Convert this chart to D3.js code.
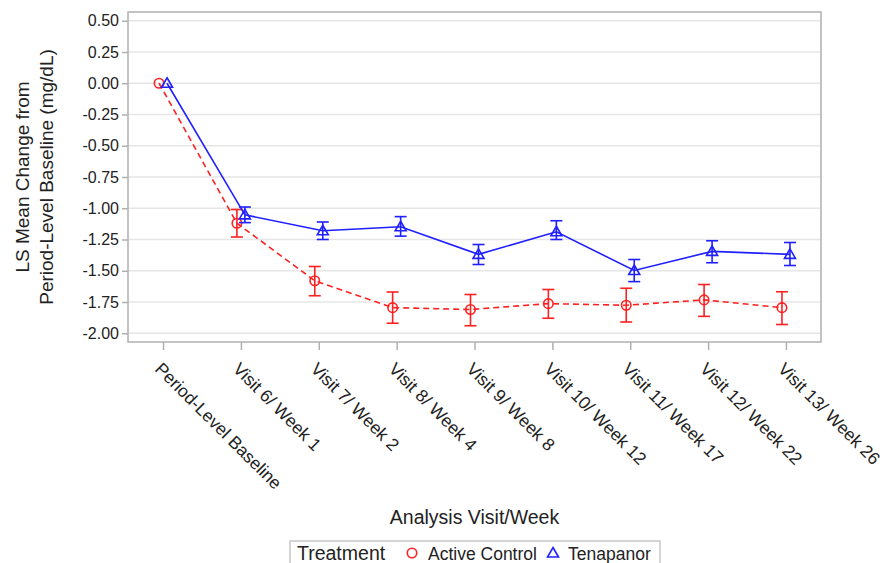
<!DOCTYPE html>
<html>
<head>
<meta charset="utf-8">
<script src="https://d3js.org/d3.v7.min.js"></script>
<style>
  body { margin: 0; background: #fff; }
  text { font-family: "Liberation Sans", Arial, sans-serif; fill: #222; }
  .grid line { stroke: #e6e6e6; stroke-width: 1.5; }
</style>
</head>
<body>
<script>
var visits = ['Period-Level Baseline','Visit 6/ Week 1','Visit 7/ Week 2','Visit 8/ Week 4',
              'Visit 9/ Week 8','Visit 10/ Week 12','Visit 11/ Week 17','Visit 12/ Week 22','Visit 13/ Week 26'];
var yTicks = [0.5, 0.25, 0, -0.25, -0.5, -0.75, -1, -1.25, -1.5, -1.75, -2];

// Active Control
var ctrlMean  = [0, -1.12, -1.58, -1.795, -1.81, -1.763, -1.776, -1.733, -1.795];
var ctrlUpper = [0, -1.01, -1.466, -1.67, -1.69, -1.65, -1.64, -1.61, -1.668];
var ctrlLower = [0, -1.23, -1.70, -1.92, -1.94, -1.88, -1.91, -1.865, -1.93];
// Tenapanor
var tenaMean  = [0, -1.053, -1.18, -1.148, -1.369, -1.188, -1.498, -1.345, -1.369];
var tenaUpper = [0, -0.99, -1.11, -1.067, -1.29, -1.10, -1.41, -1.26, -1.274];
var tenaLower = [0, -1.115, -1.25, -1.223, -1.45, -1.25, -1.587, -1.436, -1.458];

var W = 883, H = 563;
var pLeft = 128, pRight = 821, pTop = 12, pBottom = 342;

var svg = d3.select('body').append('svg').attr('width', W).attr('height', H);

var x = d3.scalePoint().domain(visits).range([pLeft, pRight]).padding(0.45);
var y = d3.scaleLinear().domain([-2.07, 0.57]).range([pBottom, pTop]);

// gridlines
svg.append('g').attr('class', 'grid')
  .selectAll('line').data(yTicks).enter().append('line')
  .attr('x1', pLeft).attr('x2', pRight)
  .attr('y1', function(d) { return y(d); }).attr('y2', function(d) { return y(d); });

// frame
svg.append('rect').attr('x', pLeft).attr('y', pTop)
  .attr('width', pRight - pLeft).attr('height', pBottom - pTop)
  .attr('fill', 'none').attr('stroke', '#b0b0b0').attr('stroke-width', 1.5);

// y axis
var yAxis = svg.append('g').attr('transform', 'translate(' + pLeft + ',0)')
  .call(d3.axisLeft(y).tickValues(yTicks).tickSize(6).tickPadding(3));
yAxis.select('.domain').remove();
yAxis.selectAll('line').attr('stroke', '#b0b0b0').attr('stroke-width', 1.5);
yAxis.selectAll('text').style('font-size', '16px').attr('fill', '#222')
  .text(function(d) { return d3.format('.2f')(d).replace('\u2212', '-'); });

// x axis
var xAxis = svg.append('g').attr('transform', 'translate(0,' + pBottom + ')')
  .call(d3.axisBottom(x).tickSize(8).tickFormat(''));
xAxis.select('.domain').remove();
xAxis.selectAll('line').attr('stroke', '#b0b0b0').attr('stroke-width', 1.5);

svg.append('g').selectAll('text').data(visits).enter().append('text')
  .attr('transform', function(d) { return 'translate(' + (x(d) - 9) + ',' + (pBottom + 28) + ') rotate(45)'; })
  .style('font-size', '17.5px')
  .text(function(d) { return d; });

// axis titles
svg.append('text')
  .attr('transform', 'translate(29,' + ((pTop + pBottom) / 2) + ') rotate(-90)')
  .attr('text-anchor', 'middle').style('font-size', '19px')
  .text('LS Mean Change from');
svg.append('text')
  .attr('transform', 'translate(53,' + ((pTop + pBottom) / 2) + ') rotate(-90)')
  .attr('text-anchor', 'middle').style('font-size', '19px')
  .text('Period-Level Baseline (mg/dL)');
svg.append('text')
  .attr('x', (pLeft + pRight) / 2).attr('y', 524)
  .attr('text-anchor', 'middle').style('font-size', '19.5px')
  .text('Analysis Visit/Week');

// series
function drawSeries(mean, upper, lower, color, dx, dash, marker) {
  var g = svg.append('g');
  var line = d3.line()
    .x(function(d, i) { return x(visits[i]) + dx; })
    .y(function(d) { return y(d); });
  g.append('path').datum(mean).attr('d', line)
    .attr('fill', 'none').attr('stroke', color).attr('stroke-width', 1.6)
    .attr('stroke-dasharray', dash);
  visits.forEach(function(v, i) {
    if (i === 0) return;
    var cx = x(v) + dx;
    g.append('line').attr('x1', cx).attr('x2', cx)
      .attr('y1', y(upper[i])).attr('y2', y(lower[i]))
      .attr('stroke', color).attr('stroke-width', 1.6);
    [upper[i], lower[i]].forEach(function(b) {
      g.append('line').attr('x1', cx - 6).attr('x2', cx + 6)
        .attr('y1', y(b)).attr('y2', y(b))
        .attr('stroke', color).attr('stroke-width', 1.6);
    });
  });
  g.selectAll('.m').data(mean).enter().append('path')
    .attr('transform', function(d, i) { return 'translate(' + (x(visits[i]) + dx) + ',' + y(d) + ')'; })
    .attr('d', marker)
    .attr('fill', 'none').attr('stroke', color).attr('stroke-width', 1.6);
}
var circ = d3.symbol().type(d3.symbolCircle).size(70)();
var tri = 'M0,-5.5L5.5,4L-5.5,4Z';
drawSeries(ctrlMean, ctrlUpper, ctrlLower, '#ff2020', -4, '6,4', circ);
drawSeries(tenaMean, tenaUpper, tenaLower, '#2020ff', 4, null, tri);

// legend
var lg = svg.append('g');
lg.append('rect').attr('x', 290).attr('y', 541).attr('width', 370).attr('height', 30)
  .attr('fill', 'none').attr('stroke', '#c8c8c8').attr('stroke-width', 1.5);
lg.append('text').attr('x', 297).attr('y', 560).style('font-size', '19.5px').text('Treatment');
lg.append('path').attr('d', circ).attr('transform', 'translate(412,553)')
  .attr('fill', 'none').attr('stroke', '#ff2020').attr('stroke-width', 1.6);
lg.append('text').attr('x', 428).attr('y', 560).style('font-size', '17.5px').text('Active Control');
lg.append('path').attr('d', tri).attr('transform', 'translate(553,553)')
  .attr('fill', 'none').attr('stroke', '#2020ff').attr('stroke-width', 1.6);
lg.append('text').attr('x', 568).attr('y', 560).style('font-size', '17.5px').text('Tenapanor');
</script>
</body>
</html>
